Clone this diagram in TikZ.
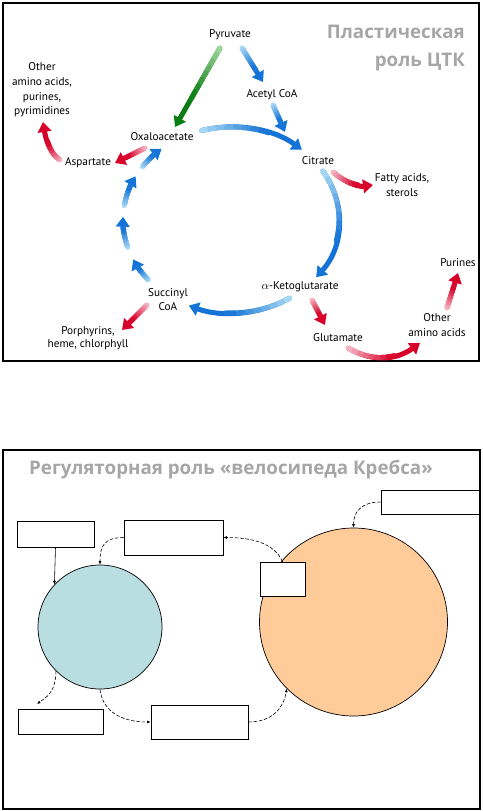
\documentclass[tikz,border=0pt]{standalone}
\usepackage{fontspec}
\setmainfont{PT Sans}
\newfontfamily\titlefont{Open Sans}
\usetikzlibrary{arrows.meta,calc}

\definecolor{bluedark}{RGB}{20,115,215}
\definecolor{bluelight}{RGB}{185,230,248}
\definecolor{greendark}{RGB}{10,125,20}
\definecolor{greenlight}{RGB}{175,225,170}
\definecolor{reddark}{RGB}{215,0,40}
\definecolor{redlight}{RGB}{248,205,215}
\definecolor{titlegray}{RGB}{166,166,166}
\definecolor{cellblue}{RGB}{185,222,226}
\definecolor{cellorange}{RGB}{255,204,153}

\tikzset{
	flow/.style={line width=4.3pt},
	lbl/.style={font=\fontsize{9.6}{12.5}\selectfont, align=center, inner sep=1pt},
	ttl/.style={font=\titlefont\bfseries\fontsize{16}{24}\selectfont, text=titlegray},
	emptybox/.style={draw, fill=white, line width=0.6pt, inner sep=0pt},
	dashlink/.style={line width=0.5pt, dash pattern=on 3pt off 1.5pt, -{Latex[length=3pt,width=2.5pt]}},
}

% 渐变箭头: #1 起点, #2 控制点, #3 终点, #4 颜色
\newcommand{\flow}[4]{
	\coordinate (fs) at (#1);
	\coordinate (fe) at (#3);
	\coordinate (fc) at (#2);
	\draw[flow, #4dark, -{Triangle[width=11.5pt,length=8.5pt]}] (fs) .. controls ($(fs)!0.667!(fc)$) and ($(fe)!0.667!(fc)$) .. (fe);
	\foreach \i in {1,...,8}{
		\pgfmathsetmacro{\ta}{0.08*(\i-1)}
		\pgfmathsetmacro{\tb}{0.08*\i}
		\pgfmathtruncatemacro{\pc}{12*\i}
		\draw[flow, line cap=round, #4dark!\pc!#4light] ($($(fs)!\ta!(fc)$)!\ta!($(fc)!\ta!(fe)$)$) -- ($($(fs)!\tb!(fc)$)!\tb!($(fc)!\tb!(fe)$)$);
	}
}

% 循环上的弧形箭头: #1 起始角, #2 终止角
\newcommand{\cyclearc}[2]{
	\draw[flow, bluedark, -{Triangle[width=11.5pt,length=8.5pt]}] (231,220) ++(#1:108 and 93) arc (#1:#2:108 and 93);
	\foreach \i in {1,...,8}{
		\pgfmathsetmacro{\aa}{(#1)+((#2)-(#1))*0.08*(\i-1)}
		\pgfmathsetmacro{\bb}{(#1)+((#2)-(#1))*0.08*\i}
		\pgfmathtruncatemacro{\pc}{12*\i}
		\draw[flow, line cap=round, bluedark!\pc!bluelight] (231,220) ++(\aa:108 and 93) arc (\aa:\bb:108 and 93);
	}
}

\begin{document}
\begin{tikzpicture}[x=0.3mm,y=-0.3mm]
	% 固定画布大小
	\useasboundingbox (0,0) rectangle (482,811);

	% 上半部分边框
	\draw[line width=2pt] (3,3) rectangle (479,361);
	% 标题
	\node[ttl, align=right, anchor=east] (ttltop) at (469,48) {Пластическая\\роль ЦТК};

	% 代谢物名称
	\node[lbl] (pyr) at (230,35) {Pyruvate};
	\node[lbl] (acoa) at (272,95) {Acetyl CoA};
	\node[lbl] (oxa) at (162,137) {Oxaloacetate};
	\node[lbl] (cit) at (318,161) {Citrate};
	\node[lbl] (asp) at (88,163) {Aspartate};
	\node[lbl] (othtop) at (42,90) {Other\\amino acids,\\purines,\\pyrimidines};
	\node[lbl] (fat) at (402,185) {Fatty acids,\\sterols};
	\node[lbl] (akg) at (300,287) {$\alpha$-Ketoglutarate};
	\node[lbl] (suc) at (168,299.5) {Succinyl\\CoA};
	\node[lbl, font=\fontsize{9.6}{11}\selectfont] (por) at (88,338.5) {Porphyrins,\\heme, chlorphyll};
	\node[lbl] (glu) at (338,338) {Glutamate};
	\node[lbl] (othbot) at (437,325) {Other\\amino acids};
	\node[lbl] (pur) at (458,263) {Purines};

	% 柠檬酸循环 (蓝色弧线)
	\cyclearc{-106}{-49}
	\cyclearc{-32}{38}
	\cyclearc{57}{113}
	\cyclearc{140}{155}
	\cyclearc{163}{182}
	\cyclearc{189}{208}
	\cyclearc{215}{230}

	% 进入循环的箭头
	\flow{$(pyr)+(-10,13)$}{$(fs)!0.5!(fe)$}{$(oxa)+(13,-10)$}{green}
	\flow{$(pyr)+(12,13)$}{$(fs)!0.5!(fe)$}{$(acoa)+(-9,-13)$}{blue}
	\flow{$(acoa)+(1,10)$}{$(fs)!0.5!(fe)$}{$(cit)+(-33,-29)$}{blue}

	% 离开循环的箭头 (红色)
	\flow{$(oxa)+(-17,11)$}{$(fs)!0.5!(fe)$}{$(asp)+(27,0)$}{red}
	\flow{$(asp)+(-28,-3)$}{48,153}{$(othtop)+(1,32)$}{red}
	\flow{$(cit)+(15,11)$}{351,188}{$(fat)+(-29,0)$}{red}
	\flow{$(akg)+(12,13)$}{$(fs)!0.5!(fe)$}{$(glu)+(-13,-13)$}{red}
	\flow{$(suc)+(-21,5.5)$}{$(fs)!0.5!(fe)$}{$(por)+(34,-8.5)$}{red}
	\flow{$(glu)+(10,10)$}{384,369}{$(othbot)+(-17,18)$}{red}
	\flow{$(othbot)+(10,-17)$}{$(fs)!0.5!(fe)$}{$(pur)+(0,10)$}{red}

	% 下半部分边框
	\draw[line width=2pt] (3,450) rectangle (480,809);
	% 标题
	\node[ttl] (ttlbot) at (231,470) {Регуляторная роль «велосипеда Кребса»};

	% 两个圆
	\node[circle, draw, line width=0.6pt, fill=cellblue, minimum size=37.2mm, inner sep=0pt] (bluecell) at (100,627) {};
	\node[circle, draw, line width=0.6pt, fill=cellorange, minimum size=56.4mm, inner sep=0pt] (orangecell) at (353.5,622) {};

	% 空白方框
	\node[emptybox, minimum width=23.1mm, minimum height=7.8mm] (boxa) at (55.5,534) {};
	\node[emptybox, minimum width=29.7mm, minimum height=10.5mm] (boxb) at (173.5,537.5) {};
	\node[emptybox, minimum width=29.4mm, minimum height=7.2mm] (boxc) at (430,502) {};
	\node[emptybox, minimum width=13.5mm, minimum height=10.2mm] (boxd) at (282.5,579) {};
	\node[emptybox, minimum width=25.5mm, minimum height=7.5mm] (boxe) at (60.5,721.5) {};
	\node[emptybox, minimum width=29.1mm, minimum height=10.2mm] (boxf) at (199.5,722) {};
	\coordinate (eend) at (37,704);

	% 连接线
	\draw[line width=0.5pt, -{Latex[length=3pt,width=2.5pt]}] (boxa.south) -- (bluecell.137);
	\draw[dashlink] (boxb.west) .. controls +(-20,0) and +(0,-18) .. (bluecell.north);
	\draw[dashlink] (boxd.north) .. controls +(-8,-18) and +(30,0) .. (boxb.east);
	\draw[dashlink] (boxc.west) .. controls +(-20,0) and +(0,-15) .. (orangecell.north);
	\draw[dashlink] (bluecell.225) .. controls +(0,22) and +(8,-6) .. (eend);
	\draw[dashlink] (bluecell.south) .. controls +(3,25) and +(-25,0) .. (boxf.west);
	\draw[dashlink] (boxf.east) .. controls +(25,0) and +(-3,18) .. (orangecell.225);
\end{tikzpicture}
\end{document}
